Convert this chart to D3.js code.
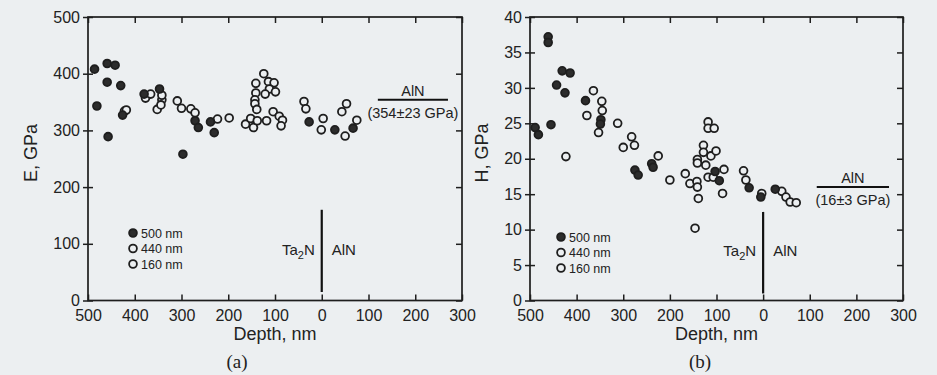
<!DOCTYPE html>
<html>
<head>
<meta charset="utf-8">
<script src="https://cdn.jsdelivr.net/npm/d3@7"></script>
<style>
  body { margin: 0; background: #eceff1; }
  svg { display: block; }
  text { font-family: "Liberation Sans", Arial, sans-serif; fill: #222; }
</style>
</head>
<body>
<svg width="937" height="375"></svg>
<script>
// depth in nm: negative = inside Ta2N (left half), positive = inside AlN
const xTicks = [-500, -400, -300, -200, -100, 0, 100, 200, 300];
const eTicks = [0, 100, 200, 300, 400, 500];
const hTicks = [0, 5, 10, 15, 20, 25, 30, 35, 40];
const legendLabels = ["500 nm", "440 nm", "160 nm"];

// panel (a): modulus E, GPa
const e500 = [[-486,408],[-481,343],[-459,418],[-442,415],[-459,385],[-457,289],[-430,379],[-426,327],
  [-380,364],[-347,373],[-297,258],[-271,317],[-264,305],[-238,315],[-230,296],[-27,315],[28,301],[67,304]];
const e440 = [[-422,334],[-418,336],[-377,357],[-366,364],[-352,337],[-342,354],[-342,362],[-344,345],
  [-309,352],[-300,339],[-280,338],[-271,331],[-223,320],[-198,322],[-38,351],[-34,338],[3,321],[-1,301]];
const e160 = [[-163,311],[-152,321],[-146,305],[-138,317],[-118,317],[-141,383],[-124,400],[-114,386],
  [-102,384],[-112,373],[-99,368],[-121,364],[-141,366],[-143,354],[-143,347],[-139,337],[-104,333],
  [-91,325],[-84,318],[-87,308],[43,333],[53,347],[50,290],[75,318]];

// panel (b): hardness H, GPa
const h500 = [[-489,24.4],[-482,23.4],[-461,37.2],[-461,36.4],[-455,24.8],[-443,30.4],[-431,32.4],
  [-414,32.1],[-425,29.3],[-381,28.2],[-348,25.5],[-349,24.9],[-275,18.4],[-268,17.7],[-239,19.3],
  [-236,18.8],[-103,18.2],[-94,16.9],[-30,15.9],[-5,14.6],[26,15.7]];
const h440 = [[-423,20.3],[-378,26.1],[-364,29.6],[-346,28.1],[-345,26.8],[-353,23.7],[-312,25.0],
  [-300,21.6],[-282,23.1],[-276,21.9],[-225,20.4],[-200,17.0],[-167,17.9],[-157,16.5]];
const h160 = [[-118,25.2],[-118,24.3],[-105,24.3],[-128,21.9],[-128,20.9],[-112,20.4],[-101,21.1],
  [-141,19.9],[-141,19.4],[-123,19.1],[-142,16.8],[-141,16.0],[-118,17.4],[-107,17.4],[-84,18.5],
  [-87,15.1],[-139,14.4],[-146,10.2],[-42,18.3],[-37,17.0],[-3,15.1],[40,15.4],[49,14.6],[58,13.9],[71,13.8]];

const svg = d3.select("svg");
const ink = "#1e1e1e";

function drawPanel(o) {
  const x = d3.scaleLinear().domain([-500, 300]).range([o.left, o.right]);
  const y = d3.scaleLinear().domain([0, o.ymax]).range([o.bottom, o.top]);
  const g = svg.append("g");

  const style = sel => {
    sel.select(".domain").remove();
    sel.selectAll("line").attr("stroke", ink).attr("stroke-width", 1.5);
    sel.selectAll("text").style("font-size", "16px").attr("fill", "#222");
  };

  g.append("g").attr("transform", `translate(0,${o.bottom})`)
    .call(d3.axisBottom(x).tickValues(xTicks).tickSizeInner(-6).tickSizeOuter(0).tickPadding(9)
      .tickFormat(d => Math.abs(d)))
    .call(style);
  g.append("g").attr("transform", `translate(0,${o.top})`)
    .call(d3.axisTop(x).tickValues(xTicks).tickSizeInner(-6).tickSizeOuter(0).tickFormat(""))
    .call(style);
  // left ticks cross the axis line
  g.append("g").attr("transform", `translate(${o.left},0)`)
    .call(d3.axisLeft(y).tickValues(o.yTicks).tickSizeInner(5).tickSizeOuter(0).tickPadding(3))
    .call(style)
    .selectAll(".tick line").attr("x2", -5).attr("x1", 5);
  g.append("g").attr("transform", `translate(${o.right},0)`)
    .call(d3.axisRight(y).tickValues(o.yTicks).tickSizeInner(-6).tickSizeOuter(0).tickFormat(""))
    .call(style);

  g.append("rect")
    .attr("x", o.left).attr("y", o.top)
    .attr("width", o.right - o.left).attr("height", o.bottom - o.top)
    .attr("fill", "none").attr("stroke", ink).attr("stroke-width", 1.7);

  // interface line
  g.append("line")
    .attr("x1", x(0)).attr("x2", x(0))
    .attr("y1", y(o.ifTop)).attr("y2", y(o.ifBottom))
    .attr("stroke", "#111").attr("stroke-width", 2.2);
  const ta = g.append("text").attr("x", x(0) - 7).attr("y", y(o.ifLabel) + 5)
    .attr("text-anchor", "end").style("font-size", "15px");
  ta.append("tspan").text("Ta");
  ta.append("tspan").attr("dy", 4).style("font-size", "11px").text("2");
  ta.append("tspan").attr("dy", -4).text("N");
  g.append("text").attr("x", x(0) + 10).attr("y", y(o.ifLabel) + 5)
    .style("font-size", "15px").text("AlN");

  // AlN bulk reference
  g.append("line")
    .attr("x1", x(o.refX[0])).attr("x2", x(o.refX[1]))
    .attr("y1", y(o.ref)).attr("y2", y(o.ref))
    .attr("stroke", "#111").attr("stroke-width", 2);
  const cx = (x(o.refX[0]) + x(o.refX[1])) / 2;
  g.append("text").attr("x", cx).attr("y", y(o.ref) - 4)
    .attr("text-anchor", "middle").style("font-size", "14.5px").text("AlN");
  g.append("text").attr("x", cx).attr("y", y(o.ref) + 18)
    .attr("text-anchor", "middle").style("font-size", "14.5px").text(o.refText);

  // data
  const dot = (data, filled) => g.append("g").selectAll("circle").data(data).join("circle")
    .attr("cx", d => x(d[0])).attr("cy", d => y(d[1])).attr("r", 3.9)
    .attr("fill", filled ? "#2c2c2c" : "#eceff1")
    .attr("stroke", ink).attr("stroke-width", 1.8);
  dot(o.open1, false);
  dot(o.open2, false);
  dot(o.filled, true);

  // legend
  legendLabels.forEach((lab, i) => {
    const ly = o.legY + i * 15.5;
    g.append("circle").attr("cx", o.legX).attr("cy", ly).attr("r", 3.9)
      .attr("fill", i === 0 ? "#2c2c2c" : "#eceff1")
      .attr("stroke", ink).attr("stroke-width", 1.8);
    g.append("text").attr("x", o.legX + 8).attr("y", ly + 4.5)
      .style("font-size", "12.5px").text(lab);
  });

  // titles
  g.append("text").attr("x", (o.left + o.right) / 2).attr("y", 340)
    .attr("text-anchor", "middle").style("font-size", "18px").text("Depth, nm");
  g.append("text")
    .attr("transform", `translate(${o.yLabX},${o.yLabY}) rotate(-90)`)
    .attr("text-anchor", "middle").style("font-size", "18px").text(o.yLabel);
  g.append("text").attr("x", o.tagX).attr("y", 368)
    .attr("text-anchor", "middle")
    .style("font-family", "'Liberation Serif', 'Times New Roman', serif")
    .style("font-size", "19px").text(o.tag);
}

drawPanel({
  left: 88, right: 462, top: 17, bottom: 300.5, ymax: 500, yTicks: eTicks,
  filled: e500, open1: e440, open2: e160,
  ifTop: 160, ifBottom: 15, ifLabel: 89,
  ref: 354, refX: [120, 270], refText: "(354±23 GPa)",
  legX: 133, legY: 233,
  yLabel: "E, GPa", yLabX: 37, yLabY: 153, tag: "(a)", tagX: 237
});

drawPanel({
  left: 530, right: 903, top: 17, bottom: 300.5, ymax: 40, yTicks: hTicks,
  filled: h500, open1: h440, open2: h160,
  ifTop: 12.5, ifBottom: 1, ifLabel: 7,
  ref: 16, refX: [115, 270], refText: "(16±3 GPa)",
  legX: 561, legY: 237,
  yLabel: "H, GPa", yLabX: 488, yLabY: 153, tag: "(b)", tagX: 700
});
</script>
</body>
</html>
